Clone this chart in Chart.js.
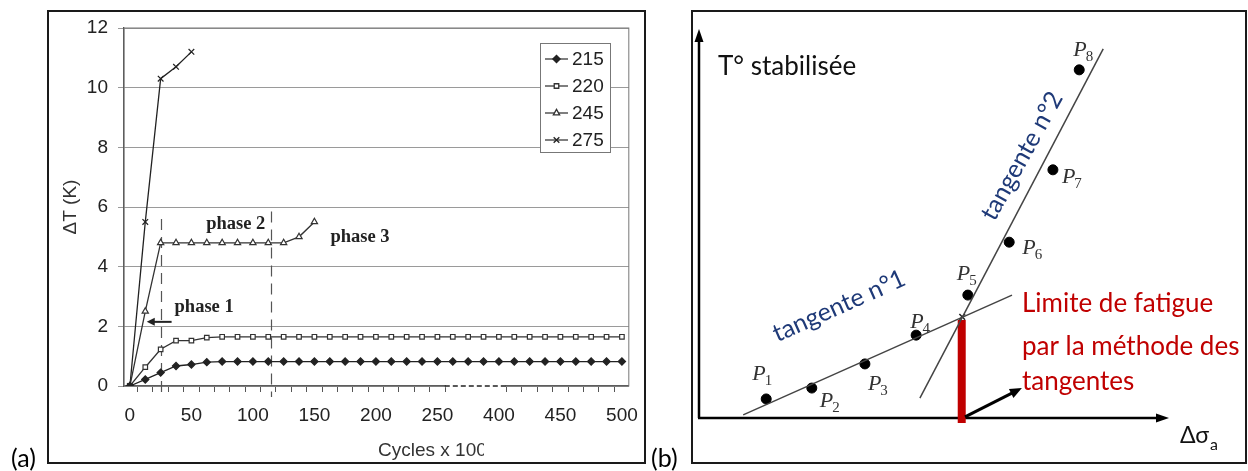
<!DOCTYPE html>
<html>
<head>
<meta charset="utf-8">
<script src="https://cdn.jsdelivr.net/npm/chart.js@4.4.1/dist/chart.umd.min.js"></script>
<style>
  body { margin: 0; background: #fff; }
  #page { position: relative; width: 1248px; height: 471px; overflow: hidden; font-family: Lato, "Open Sans", sans-serif; }
  .box { position: absolute; border: 2px solid #1a1a1a; box-sizing: border-box; pointer-events: none; }
  .tag { position: absolute; font-size: 25px; line-height: 25px; color: #000; }
  .pane { position: absolute; top: 0; height: 471px; }
</style>
</head>
<body>
<div id="page">
  <div class="pane" style="left:0;width:650px"><canvas id="chartA"></canvas></div>
  <div class="pane" style="left:650px;width:598px"><canvas id="chartB"></canvas></div>
  <div class="box" style="left:47px;top:10px;width:599px;height:454px"></div>
  <div class="box" style="left:691px;top:10px;width:556px;height:454px"></div>
  <div class="tag" style="left:11px;top:445px">(a)</div>
  <div class="tag" style="left:651px;top:445px">(b)</div>
</div>
<script>
// ---- (a) échauffement ΔT en fonction des cycles ----
// position sur l'axe x (l'axe est coupé entre 250 et 400)
var xPos = [0, 12.5, 25, 37.5, 50, 62.5, 75, 87.5, 100, 112.5, 125, 137.5, 150, 162.5, 175, 187.5,
            200, 212.5, 225, 237.5, 250, 262.5, 275, 287.5, 300, 312.5, 325, 337.5, 350, 362.5, 375, 387.5, 400];
var tickLabels = ['0', '50', '100', '150', '200', '250', '400', '450', '500'];
var seriesNames = ['215', '220', '245', '275'];
var s215 = [0, 0.22, 0.45, 0.67, 0.72, 0.8, 0.82, 0.82, 0.82, 0.82, 0.82, 0.82, 0.82, 0.82, 0.82, 0.82,
            0.82, 0.82, 0.82, 0.82, 0.82, 0.82, 0.82, 0.82, 0.82, 0.82, 0.82, 0.82, 0.82, 0.82, 0.82, 0.82, 0.82];
var s220 = [0, 0.63, 1.23, 1.52, 1.52, 1.62, 1.65, 1.65, 1.65, 1.65, 1.65, 1.65, 1.65, 1.65, 1.65, 1.65,
            1.65, 1.65, 1.65, 1.65, 1.65, 1.65, 1.65, 1.65, 1.65, 1.65, 1.65, 1.65, 1.65, 1.65, 1.65, 1.65, 1.65];
var s245 = [0, 2.5, 4.8, 4.8, 4.8, 4.8, 4.8, 4.8, 4.8, 4.8, 4.8, 5.0, 5.5];
var s275 = [0, 5.5, 10.3, 10.7, 11.2];

var phaseTexts = [
    { text: 'phase 1', x: 36.3, y: 2.65 },
    { text: 'phase 2', x: 62, y: 5.43 },
    { text: 'phase 3', x: 163, y: 5.0 }
];
var phaseLines = [{ x: 25, top: 5.6 }, { x: 115, top: 5.85 }];

// ticks : labels tous les 50, petits traits entre les points
var xTicks = [];
for (var i = 0; i <= 8; i++) xTicks.push(i * 50);
for (var k = 0; k < 32; k++) {
    var v = 6.25 + k * 12.5;
    if (v > 260 && v < 300) continue; // zone coupée
    xTicks.push(v);
}
xTicks.sort(function (a, b) { return a - b; });

function pointsOf(ys) {
    return ys.map(function (y, i) { return { x: xPos[i], y: y }; });
}

var sansA = '"Liberation Sans", Arial, sans-serif';
var lineCol = '#3a3a3a';
var styles = [
    { pointStyle: 'rectRot', pointRadius: 3.6, backgroundColor: '#222', borderColor: '#222' },
    { pointStyle: 'rect', pointRadius: 3.2, backgroundColor: '#fff', borderColor: '#333' },
    { pointStyle: 'triangle', pointRadius: 3.6, backgroundColor: '#fff', borderColor: '#333' },
    { pointStyle: 'crossRot', pointRadius: 4, backgroundColor: '#222', borderColor: '#222' }
];
var allSeries = [s215, s220, s245, s275];

var decorA = {
    id: 'decorA',
    beforeDatasetsDraw: function (chart) {
        var c = chart.ctx, a = chart.chartArea, xs = chart.scales.x, ys = chart.scales.y;
        c.save();
        // cadre du graphe
        c.strokeStyle = '#777';
        c.lineWidth = 1;
        c.strokeRect(a.left, a.top, a.right - a.left, a.bottom - a.top);
        // traits des phases
        c.strokeStyle = '#555';
        c.lineWidth = 1.2;
        c.setLineDash([11, 7]);
        phaseLines.forEach(function (p) {
            var px = Math.round(xs.getPixelForValue(p.x)) + 0.5;
            c.beginPath();
            c.moveTo(px, ys.getPixelForValue(p.top));
            c.lineTo(px, a.bottom + 11);
            c.stroke();
        });
        c.restore();
    },
    afterDraw: function (chart) {
        var c = chart.ctx, a = chart.chartArea, xs = chart.scales.x, ys = chart.scales.y;
        c.save();
        // coupure de l'axe
        var b0 = xs.getPixelForValue(256), b1 = xs.getPixelForValue(306);
        c.strokeStyle = '#fff';
        c.lineWidth = 4;
        c.beginPath(); c.moveTo(b0 + 1, a.bottom); c.lineTo(b1 - 1, a.bottom); c.stroke();
        c.strokeStyle = '#222';
        c.lineWidth = 1.5;
        c.setLineDash([5, 3]);
        c.beginPath(); c.moveTo(b0, a.bottom); c.lineTo(b1, a.bottom); c.stroke();
        c.setLineDash([]);

        // textes des phases
        c.fillStyle = '#222';
        c.font = 'bold 18.5px "Liberation Serif", "Times New Roman", serif';
        c.textBaseline = 'middle';
        c.textAlign = 'left';
        phaseTexts.forEach(function (p) {
            c.fillText(p.text, xs.getPixelForValue(p.x), ys.getPixelForValue(p.y));
        });
        // flèche phase 1
        var ay = ys.getPixelForValue(2.15), ax0 = xs.getPixelForValue(33.9), ax1 = xs.getPixelForValue(13.7);
        c.strokeStyle = '#222';
        c.lineWidth = 2;
        c.beginPath(); c.moveTo(ax0, ay); c.lineTo(ax1 + 5, ay); c.stroke();
        c.beginPath(); c.moveTo(ax1, ay); c.lineTo(ax1 + 8, ay - 4); c.lineTo(ax1 + 8, ay + 4); c.closePath(); c.fill();

        // titre x, coupé à droite comme sur l'original
        c.save();
        c.beginPath(); c.rect(0, 0, 484, chart.height); c.clip();
        c.fillStyle = '#333';
        c.font = '19px ' + sansA;
        c.fillText('Cycles x 100', 378, 451);
        c.restore();

        // légende
        var lx = 540, ly = 43, lw = 70, lh = 109;
        c.fillStyle = '#fff';
        c.fillRect(lx, ly, lw, lh);
        c.strokeStyle = '#777';
        c.lineWidth = 1;
        c.strokeRect(lx + 0.5, ly + 0.5, lw, lh);
        chart.data.datasets.forEach(function (ds, i) {
            var yy = 59 + i * 27;
            c.strokeStyle = lineCol;
            c.lineWidth = 1.3;
            c.beginPath(); c.moveTo(545, yy); c.lineTo(568, yy); c.stroke();
            c.fillStyle = ds.backgroundColor;
            c.strokeStyle = ds.borderColor;
            Chart.helpers.drawPoint(c, { pointStyle: ds.pointStyle, radius: ds.pointRadius, rotation: 0, borderWidth: 1.2 }, 556.5, yy);
            c.fillStyle = '#222';
            c.font = '19px ' + sansA;
            c.textAlign = 'left';
            c.fillText(ds.label, 572, yy + 1);
        });
        c.restore();
    }
};

new Chart(document.getElementById('chartA'), {
    type: 'line',
    data: {
        datasets: allSeries.map(function (s, i) {
            return Object.assign({
                label: seriesNames[i],
                data: pointsOf(s),
                borderWidth: 1.3,
                pointBorderWidth: 1.2,
                fill: false,
                tension: 0
            }, styles[i], { borderColor: styles[i].borderColor, pointBorderColor: styles[i].borderColor, pointBackgroundColor: styles[i].backgroundColor });
        })
    },
    options: {
        responsive: true,
        maintainAspectRatio: false,
        animation: false,
        layout: { padding: { left: 55, top: 28, right: 17, bottom: 30 } },
        plugins: { legend: { display: false }, tooltip: { enabled: false } },
        scales: {
            x: {
                type: 'linear',
                min: -4.8,
                max: 405.6,
                afterBuildTicks: function (axis) {
                    axis.ticks = xTicks.map(function (v) { return { value: v }; });
                },
                afterFit: function (s) { s.height = 55; },
                ticks: {
                    autoSkip: false,
                    maxRotation: 0,
                    padding: 12,
                    color: '#222',
                    font: { family: sansA, size: 19 },
                    callback: function (v) { return v % 50 === 0 ? tickLabels[v / 50] : ''; }
                },
                grid: {
                    drawOnChartArea: false,
                    tickLength: 6,
                    tickColor: function (ctx) {
                        return ctx.tick && ctx.tick.value % 50 === 0 ? 'rgba(0,0,0,0)' : '#555';
                    }
                },
                border: { color: '#444', width: 1.3 }
            },
            y: {
                min: 0,
                max: 12,
                afterFit: function (s) { s.width = 69; },
                ticks: { stepSize: 2, padding: 10, color: '#222', font: { family: sansA, size: 19 } },
                grid: { color: '#9a9a9a', tickLength: 6 },
                border: { color: '#444', width: 1.3 },
                title: { display: true, text: 'ΔT (K)', color: '#333', font: { family: sansA, size: 19 } }
            }
        }
    },
    plugins: [decorA]
});

// ---- (b) méthode des tangentes ----
var pNames = ['1', '2', '3', '4', '5', '6', '7', '8'];
var pX = [14.3, 24.0, 35.3, 46.2, 57.2, 66.0, 75.3, 80.9];
var pY = [4.9, 7.7, 13.9, 21.3, 31.6, 45.2, 63.8, 89.5];
var tan1X = [9.4, 66.6], tan1Y = [0.8, 31.6];
var tan2X = [47.0, 86.0], tan2Y = [5.1, 94.9];
var limX = [55.9, 55.9], limY = [-1.3, 25.2];
var crossX = [56.0], crossY = [26.0];
var arrowX = [56.6, 68.7], arrowY = [0.3, 7.7];

// décalage des étiquettes P (pixels)
var pLabelOffsets = [[-14, -19], [8, 19], [3, 26], [-6, -7], [-11, -15], [13, 12], [9, 13], [-6, -14]];

function xy(xa, ya) {
    return xa.map(function (x, i) { return { x: x, y: ya[i] }; });
}

var red = '#c00000';
var navy = '#1f3a78';
var lato = 'Lato, "Open Sans", sans-serif';

function arrowHead(c, x0, y0, x1, y1, len, half) {
    var ang = Math.atan2(y1 - y0, x1 - x0);
    c.beginPath();
    c.moveTo(x1, y1);
    c.lineTo(x1 - len * Math.cos(ang) + half * Math.sin(ang), y1 - len * Math.sin(ang) - half * Math.cos(ang));
    c.lineTo(x1 - len * Math.cos(ang) - half * Math.sin(ang), y1 - len * Math.sin(ang) + half * Math.cos(ang));
    c.closePath();
    c.fill();
}

var decorB = {
    id: 'decorB',
    beforeDatasetsDraw: function (chart) {
        var c = chart.ctx, a = chart.chartArea;
        c.save();
        c.strokeStyle = '#000';
        c.fillStyle = '#000';
        c.lineWidth = 2.5;
        c.beginPath();
        c.moveTo(a.left, a.bottom);
        c.lineTo(a.left, a.top + 10);
        c.moveTo(a.left - 1, a.bottom);
        c.lineTo(a.right - 10, a.bottom);
        c.stroke();
        arrowHead(c, a.left, a.bottom, a.left, a.top, 13, 4.5);
        arrowHead(c, a.left, a.bottom, a.right, a.bottom, 13, 4.5);
        c.restore();
    },
    afterDraw: function (chart) {
        var c = chart.ctx, xs = chart.scales.x, ys = chart.scales.y;
        c.save();
        // flèche vers la limite
        var x0 = xs.getPixelForValue(arrowX[0]), y0 = ys.getPixelForValue(arrowY[0]);
        var x1 = xs.getPixelForValue(arrowX[1]), y1 = ys.getPixelForValue(arrowY[1]);
        c.strokeStyle = '#000';
        c.fillStyle = '#000';
        c.lineWidth = 3;
        c.beginPath(); c.moveTo(x0, y0); c.lineTo(x1 - 6, y1 + 3); c.stroke();
        arrowHead(c, x0, y0, x1, y1, 12, 5);

        // étiquettes P1..P8
        c.textBaseline = 'alphabetic';
        c.textAlign = 'left';
        c.fillStyle = '#333';
        pX.forEach(function (x, i) {
            var px = xs.getPixelForValue(x) + pLabelOffsets[i][0];
            var py = ys.getPixelForValue(pY[i]) + pLabelOffsets[i][1];
            c.font = 'italic 22px "Liberation Serif", "Times New Roman", serif';
            c.fillText('P', px, py);
            var w = c.measureText('P').width;
            c.font = '15px "Liberation Serif", "Times New Roman", serif';
            c.fillText(pNames[i], px + w - 1, py + 5);
        });

        // textes
        c.fillStyle = '#111';
        c.font = '26px ' + lato;
        c.fillText('T° stabilisée', 68, 75);
        c.font = '23px ' + lato;
        c.fillText('Δσ', 530, 443);
        var w2 = c.measureText('Δσ').width;
        c.font = '16px ' + lato;
        c.fillText('a', 530 + w2 + 1, 450);

        c.fillStyle = red;
        c.font = '26px ' + lato;
        c.fillText('Limite de fatigue', 372, 312);
        c.fillText('par la méthode des', 372, 355);
        c.fillText('tangentes', 372, 390);

        c.fillStyle = navy;
        c.font = '25px ' + lato;
        c.textAlign = 'center';
        c.textBaseline = 'middle';
        c.save();
        c.translate(189, 306);
        c.rotate(-24 * Math.PI / 180);
        c.fillText('tangente n°1', 0, 0);
        c.restore();
        c.save();
        c.translate(372, 156);
        c.rotate(-61 * Math.PI / 180);
        c.fillText('tangente n°2', 0, 0);
        c.restore();
        c.restore();
    }
};

new Chart(document.getElementById('chartB'), {
    type: 'scatter',
    data: {
        datasets: [
            { label: 'tangente n°1', data: xy(tan1X, tan1Y), showLine: true, borderColor: '#444', borderWidth: 1.5, pointRadius: 0, clip: false },
            { label: 'tangente n°2', data: xy(tan2X, tan2Y), showLine: true, borderColor: '#444', borderWidth: 1.5, pointRadius: 0, clip: false },
            { label: 'limite', data: xy(limX, limY), showLine: true, borderColor: red, borderWidth: 8, borderCapStyle: 'butt', pointRadius: 0, clip: false },
            { label: 'intersection', data: xy(crossX, crossY), pointStyle: 'crossRot', pointRadius: 4, borderColor: '#222', borderWidth: 1.5, clip: false },
            { label: 'P', data: xy(pX, pY), pointRadius: 5, backgroundColor: '#000', borderColor: '#000', clip: false }
        ]
    },
    options: {
        responsive: true,
        maintainAspectRatio: false,
        animation: false,
        layout: { padding: { left: 49, right: 79, top: 29, bottom: 53 } },
        plugins: { legend: { display: false }, tooltip: { enabled: false } },
        scales: {
            x: { type: 'linear', min: 0, max: 100, display: false },
            y: { type: 'linear', min: 0, max: 100, display: false }
        }
    },
    plugins: [decorB]
});
</script>
</body>
</html>
